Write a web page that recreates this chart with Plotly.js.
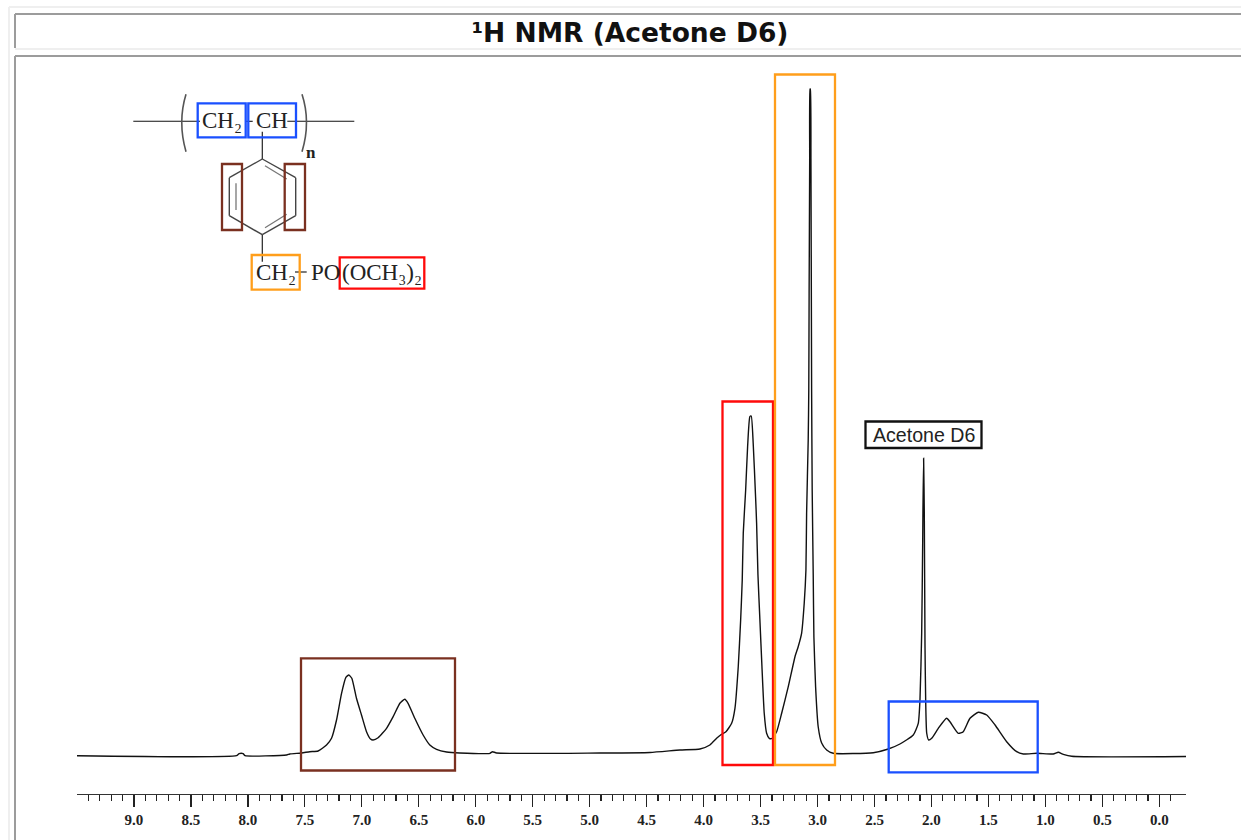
<!DOCTYPE html>
<html>
<head>
<meta charset="utf-8">
<script src="https://cdn.plot.ly/plotly-3.0.1.min.js"></script>
<style>html,body{margin:0;padding:0;background:#fff;overflow:hidden}</style>
</head>
<body>
<div id="chart" style="width:1241px;height:840px"></div>
<script>
const ppm = [9.502,8.100,8.077,8.042,8.025,7.661,7.632,7.529,7.457,7.384,7.310,7.266,7.222,7.178,7.140,7.114,7.088,7.047,7.003,6.959,6.924,6.901,6.857,6.783,6.725,6.666,6.623,6.594,6.535,6.462,6.403,6.344,6.256,6.140,5.876,5.853,5.817,4.910,4.471,4.208,4.032,3.945,3.886,3.851,3.804,3.754,3.725,3.696,3.675,3.661,3.652,3.631,3.614,3.594,3.582,3.565,3.544,3.535,3.523,3.506,3.488,3.468,3.447,3.424,3.398,3.359,3.315,3.257,3.198,3.170,3.140,3.117,3.102,3.096,3.082,3.077,3.074,3.069,3.066,3.063,3.058,3.052,3.047,3.038,3.032,3.017,2.994,2.964,2.920,2.862,2.511,2.379,2.277,2.160,2.116,2.101,2.086,2.077,2.075,2.069,2.063,2.057,2.051,2.042,2.025,1.998,1.940,1.867,1.838,1.765,1.721,1.662,1.589,1.515,1.442,1.340,1.252,1.194,1.076,0.931,0.887,0.843,0.769,-0.234];
const intensity = [0.3,0.3,2.3,2.3,0.3,1,2,3,4.3,5,11,17.7,36,62.7,78.7,81,77.7,57.7,41,24.3,17,16,18.3,27.7,39.3,52.7,56.7,52.7,37.7,21,11,6.7,4,3,2.7,4.3,3,3,3.5,6,7,11,17.7,21,24.3,32.7,47.7,89.3,136,176,223,266,309.3,339.3,340,313,259.3,233,181,136,89.3,42.7,22.7,17.7,17.7,24.3,42.7,69.3,99.3,109.3,122.7,152.7,186,243,316,366,463,596,667,667,596,366,266,181,119,69,29,13,6,2.7,3.3,7,12,21,32.7,56,123,216,243,297.7,243,111,56,23,16,17.7,27.7,37.7,34.3,22.7,24.3,37.7,43.7,41,31,14.3,4.3,2,2.7,2,3.7,1.7,-0.3,-0.5];
const majorTicks = [9,8.5,8,7.5,7,6.5,6,5.5,5,4.5,4,3.5,3,2.5,2,1.5,1,0.5,0];
const majorLabels = ['9.0','8.5','8.0','7.5','7.0','6.5','6.0','5.5','5.0','4.5','4.0','3.5','3.0','2.5','2.0','1.5','1.0','0.5','0.0'];
const minorTicks = [];
for (let i = -1; i <= 94; i++) if ((i + 100) % 5 !== 0) minorTicks.push(i / 10);

const L = 77, R = 1186, T = 55, B = 794;
const fx = p => (p - L) / (R - L);
const fy = p => (B - p) / (B - T);
const seg = (x0, y0, x1, y1, color, width) => ({type:'line', xref:'paper', yref:'paper',
  x0:fx(x0), y0:fy(y0), x1:fx(x1), y1:fy(y1), line:{color:color, width:width}});
const box = (x0, y0, x1, y1, color, width) => ({type:'rect', xref:'paper', yref:'paper',
  x0:fx(x0), y0:fy(y0), x1:fx(x1), y1:fy(y1), line:{color:color, width:width||2.3}, fillcolor:'rgba(0,0,0,0)'});
const arc = (x0, y0, cx, cy, x1, y1) => ({type:'path', xref:'paper', yref:'paper',
  path:`M ${fx(x0)},${fy(y0)} Q ${fx(cx)},${fy(cy)} ${fx(x1)},${fy(y1)}`, line:{color:'#555', width:1.6}});
const label = (x, y, text, size, extra) => Object.assign({xref:'paper', yref:'paper', x:fx(x), y:fy(y),
  xanchor:'left', yanchor:'middle', showarrow:false, text:text,
  font:{family:'"Liberation Serif", serif', size:size, color:'#222'}}, extra || {});

const BLUE = '#1A50FF', BROWN = '#7A3020', ORANGE = '#FF9E1B', RED = '#FF0A0A', GRAY = '#9C9C9C', PALE = '#EFEFEF', RING = '#444';

const shapes = [
  seg(9,7,1241,7,PALE,2), seg(9,7,9,840,PALE,2),
  seg(15,14,1241,14,GRAY,2), seg(15,14,15,48,GRAY,2), seg(15,49,1241,49,PALE,2),
  seg(15,56,1241,56,GRAY,2), seg(15,56,15,840,GRAY,2),
  box(301,658.3,455,770.5,BROWN), box(722.5,401.5,773,765,RED),
  box(775,74.5,835,765,ORANGE), box(888.7,701.5,1037.7,772.3,BLUE),
  box(865.5,421.5,981.5,448,'#111'),
  seg(133.3,121.3,200,121.3,'#111',1.1), seg(245,121.3,252.7,121.3,'#111',1.1), seg(287.3,121.3,354.3,121.3,'#111',1.1),
  arc(186,94.3,177.5,122,186,151.7), arc(302,94.3,311,122,302,151.7),
  seg(262.3,131.7,262.3,159,'#222',1.2),
  seg(262.3,159,295.7,177.7,RING,1.4), seg(295.7,177.7,295.7,215.7,RING,1.4),
  seg(295.7,215.7,262.3,234.7,RING,1.4), seg(262.3,234.7,229.3,215.7,RING,1.4),
  seg(229.3,215.7,229.3,177.7,RING,1.4), seg(229.3,177.7,262.3,159,RING,1.4),
  seg(236,183.3,236,210,'#777',1.3), seg(265,165.7,286.7,179,'#777',1.3), seg(265,227.7,286.7,214.3,'#777',1.3),
  seg(262.3,234.7,262.3,261.7,'#222',1.2), seg(295,272,306.7,272,'#222',1.2),
  box(197.7,103.3,245.7,137.3,BLUE), box(248.3,103.3,296,137.3,BLUE),
  box(222,164,242,230,BROWN), box(284.7,164,305,230,BROWN),
  box(251.7,255,299.7,289.7,ORANGE), box(339.7,257.3,424.3,288.7,RED)
];

const annotations = [
  label(199.5,120,'CH₂',23), label(253.5,120,'CH',23),
  label(253.5,272,'CH₂',23), label(309,272,'PO',23), label(339.5,272,'(OCH₃)₂',23),
  label(304,152,'<b>n</b>',17),
  label(923.5,435,'Acetone D6',19.6,{xanchor:'center', font:{family:'"Liberation Sans", sans-serif', size:19.6, color:'#222'}})
];

const trace = {type:'scatter', mode:'lines', x:ppm, y:intensity, hoverinfo:'skip',
  line:{color:'#111', width:1.4, shape:'spline', smoothing:0.5}};

const layout = {
  width:1241, height:840, showlegend:false, paper_bgcolor:'#fff', plot_bgcolor:'#fff',
  margin:{l:L, r:1241-R, t:T, b:840-B, pad:0},
  title:{text:'¹H NMR (Acetone D6)', x:630/1241, xanchor:'center', y:1-33/840, yanchor:'middle',
    xref:'container', yref:'container',
    font:{family:'"DejaVu Sans", sans-serif', size:26.5, weight:700, color:'#111'}},
  xaxis:{range:[9.5,-0.234], showgrid:false, zeroline:false, showline:true, linecolor:'#333', linewidth:1.2,
    ticks:'outside', ticklen:12, tickwidth:1.2, tickcolor:'#222', tickmode:'array', tickvals:majorTicks, ticktext:majorLabels,
    tickfont:{family:'"Liberation Serif", serif', size:15, weight:700, color:'#222'},
    minor:{tickmode:'array', tickvals:minorTicks, ticks:'outside', ticklen:6, tickwidth:1.2, tickcolor:'#222', showgrid:false}},
  yaxis:{range:[-38,701], visible:false, fixedrange:true},
  shapes:shapes, annotations:annotations
};

Plotly.newPlot('chart',[trace],layout,{displayModeBar:false,staticPlot:true});
</script>
</body>
</html>
